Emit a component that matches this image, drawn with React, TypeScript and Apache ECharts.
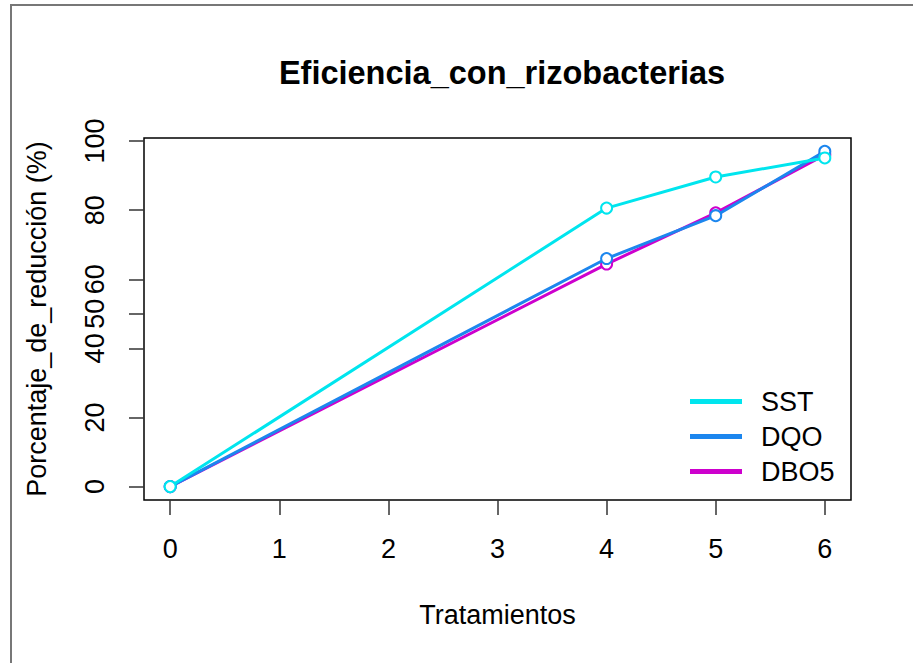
import React, { useEffect, useRef } from "react";
import * as echarts from "echarts";

const tratamientos = [0, 4, 5, 6];
const sst = [0, 80.6, 89.6, 95.1];
const dqo = [0, 66.0, 78.4, 97.0];
const dbo5 = [0, 64.4, 79.2, 96.0];
const xTicks = [0, 1, 2, 3, 4, 5, 6];
const yTicks = [0, 20, 40, 50, 60, 80, 100];

const FONT = "'Liberation Sans', Arial, sans-serif";
const C_SST = "#00E5EE";
const C_DQO = "#1C86EE";
const C_DBO = "#CD00CD";

export default function App() {
  const ref = useRef<HTMLDivElement>(null);
  useEffect(() => {
    document.body.style.margin = "0";
    const chart = echarts.init(ref.current!, null, { renderer: "svg" });
    const mk = (name: string, vals: number[], color: string, z: number) => ({
      name,
      type: "line",
      data: tratamientos.map((x, i) => [x, vals[i]]),
      symbol: "emptyCircle",
      symbolSize: 11,
      z,
      lineStyle: { color, width: 3 },
      itemStyle: { color, borderColor: color, borderWidth: 2.5 },
    });
    chart.setOption({
      animation: false,
      backgroundColor: "#fff",
      textStyle: { fontFamily: FONT },
      title: {
        text: "Eficiencia_con_rizobacterias",
        left: 497,
        textAlign: "center",
        top: 51,
        textStyle: { fontFamily: FONT, fontWeight: "bold", fontSize: 32.5, color: "#000" },
      },
      grid: {
        left: 144,
        right: 62,
        top: 138,
        bottom: 163,
        show: true,
        borderColor: "#000",
        borderWidth: 1.5,
        backgroundColor: "transparent",
      },
      legend: {
        orient: "vertical",
        left: 685,
        top: 383,
        icon: "rect",
        itemWidth: 50,
        itemHeight: 3,
        itemGap: 8,
        data: ["SST", "DQO", "DBO5"],
        textStyle: { fontFamily: FONT, fontSize: 27, color: "#000", padding: [0, 0, 0, 15] },
      },
      xAxis: {
        type: "value",
        min: -0.24,
        max: 6.24,
        name: "Tratamientos",
        nameLocation: "middle",
        nameGap: 101.5,
        nameTextStyle: { fontFamily: FONT, fontSize: 27, color: "#000" },
        axisLine: { show: false, onZero: false },
        splitLine: { show: false },
        axisTick: { show: true, inside: false, length: 15, customValues: xTicks, lineStyle: { color: "#333", width: 1.5 } },
        axisLabel: {
          customValues: xTicks,
          margin: 35.5,
          fontSize: 27,
          color: "#000",
          fontFamily: FONT,
        },
      },
      yAxis: {
        type: "value",
        min: -3.88,
        max: 100.88,
        name: "Porcentaje_de_reducción (%)",
        nameLocation: "middle",
        nameGap: 93.5,
        nameRotate: 90,
        nameTextStyle: { fontFamily: FONT, fontSize: 27, color: "#000" },
        axisLine: { show: false, onZero: false },
        splitLine: { show: false },
        axisTick: { show: true, inside: false, length: 15, customValues: yTicks, lineStyle: { color: "#333", width: 1.5 } },
        axisLabel: {
          customValues: yTicks,
          rotate: 90,
          margin: 49,
          fontSize: 27,
          color: "#000",
          fontFamily: FONT,
          align: "center",
          verticalAlign: "middle",
        },
      },
      graphic: [
        {
          type: "polyline",
          shape: { points: [[11, 663], [11, 5], [913, 5]] },
          style: { stroke: "#777", lineWidth: 2, fill: null },
          silent: true,
        },
      ],
      series: [
        mk("DBO5", dbo5, C_DBO, 2),
        mk("DQO", dqo, C_DQO, 3),
        mk("SST", sst, C_SST, 4),
      ],
    });
    return () => chart.dispose();
  }, []);
  return <div ref={ref} style={{ position: "absolute", left: 0, top: 0, width: 913, height: 663 }} />;
}
